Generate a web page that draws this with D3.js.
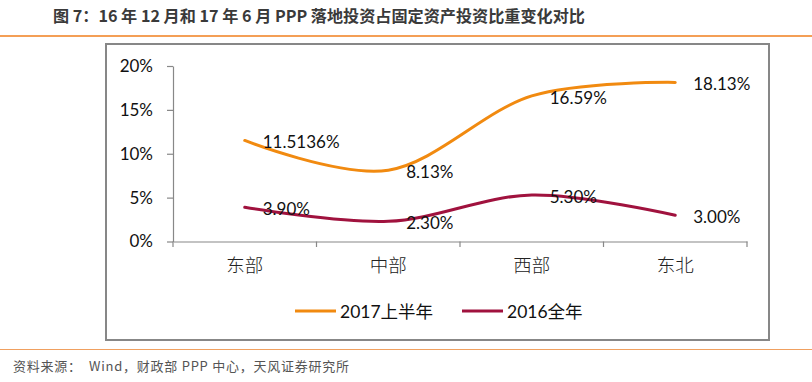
<!DOCTYPE html>
<html><head><meta charset="utf-8">
<script src="https://cdn.jsdelivr.net/npm/d3@7"></script>
<style>
html,body{margin:0;padding:0;background:#fff;}
svg{display:block;}
</style></head>
<body>
<script>
const categories = ["东部", "中部", "西部", "东北"];
const series2017 = [11.5136, 8.13, 16.59, 18.13];
const series2016 = [3.90, 2.30, 5.30, 3.00];
const labels2017 = ["11.5136%", "8.13%", "16.59%", "18.13%"];
const labels2016 = ["3.90%", "2.30%", "5.30%", "3.00%"];
const yTicks = [0, 5, 10, 15, 20];
const seriesNames = ["2017上半年", "2016全年"];
const colors = ["#F18A10", "#A0123E"];
const titleText = "图 7：16 年 12 月和 17 年 6 月 PPP 落地投资占固定资产投资比重变化对比";
const sourceText = "资料来源：  Wind，财政部 PPP 中心，天风证券研究所";

const W = 812, H = 382;
const svg = d3.select("body").append("svg").attr("width", W).attr("height", H);
svg.append("rect").attr("width", W).attr("height", H).attr("fill", "#fff");

// title
svg.append("text").attr("x", 53).attr("y", 15).attr("dominant-baseline", "central")
  .attr("font-family", "'Noto Sans CJK SC', sans-serif").attr("font-weight", "bold")
  .attr("font-size", 16).attr("fill", "#3a3a3a")
  .attr("textLength", 532).attr("lengthAdjust", "spacingAndGlyphs")
  .text(titleText);
svg.append("line").attr("x1", 0).attr("x2", W).attr("y1", 36).attr("y2", 36)
  .attr("stroke", "#F07F1E").attr("stroke-width", 1.5);

// chart box
svg.append("rect").attr("x", 106).attr("y", 44).attr("width", 663).attr("height", 296)
  .attr("fill", "#fff").attr("stroke", "#878787").attr("stroke-width", 2);

const x = d3.scaleBand().domain(categories).range([173, 747]);
const y = d3.scaleLinear().domain([0, 20]).range([241.5, 66]);

// y axis
const yAxis = d3.axisLeft(y).tickValues(yTicks).tickFormat(d => d + "%").tickSize(6).tickSizeOuter(0).tickPadding(14);
const gy = svg.append("g").attr("transform", "translate(173,0)").call(yAxis);
gy.selectAll("path,line").attr("stroke", "#888").attr("stroke-width", 1.2);
gy.selectAll("text").attr("font-family", "Lato, 'Open Sans', sans-serif").attr("font-size", 17).attr("fill", "#111");

// x axis
const xAxis = d3.axisBottom(x).tickSize(0).tickSizeOuter(0).tickPadding(17);
const gx = svg.append("g").attr("transform", "translate(0,241.5)").call(xAxis);
gx.select("path").attr("stroke", "#888").attr("stroke-width", 1.2);
gx.selectAll("text").attr("font-family", "'Noto Sans CJK SC', serif").attr("font-size", 18.5)
  .attr("font-weight", 300).attr("fill", "#222");
// boundary ticks between categories
const bounds = categories.map(c => x(c)).concat([x.range()[1]]);
svg.append("g").selectAll("line").data(bounds).join("line")
  .attr("x1", d => d).attr("x2", d => d).attr("y1", 241.5).attr("y2", 247)
  .attr("stroke", "#888").attr("stroke-width", 1.2);

const cx = c => x(c) + x.bandwidth() / 2;
const line = d3.line().x((d, i) => cx(categories[i])).y(d => y(d)).curve(d3.curveCardinal.tension(0));

const allSeries = [series2017, series2016];
const allLabels = [labels2017, labels2016];
allSeries.forEach((s, k) => {
  svg.append("path").datum(s).attr("d", line).attr("fill", "none")
    .attr("stroke", colors[k]).attr("stroke-width", 3).attr("stroke-linecap", "round");
});
allSeries.forEach((s, k) => {
  svg.append("g").selectAll("text").data(s).join("text")
    .attr("x", (d, i) => cx(categories[i]) + 18)
    .attr("y", d => y(d) + 1.5)
    .attr("dominant-baseline", "central")
    .attr("font-family", "Lato, 'Open Sans', sans-serif").attr("font-size", 17).attr("fill", "#111")
    .text((d, i) => allLabels[k][i]);
});

// legend
const legendX = [295, 462];
seriesNames.forEach((n, k) => {
  svg.append("line").attr("x1", legendX[k]).attr("x2", legendX[k] + 41)
    .attr("y1", 311).attr("y2", 311).attr("stroke", colors[k]).attr("stroke-width", 3);
  svg.append("text").attr("x", legendX[k] + 45).attr("y", 311).attr("dominant-baseline", "central")
    .attr("font-family", "Lato, 'Noto Sans CJK SC', sans-serif").attr("font-size", 17.5).attr("fill", "#111")
    .text(n);
});

// bottom line + source
svg.append("line").attr("x1", 0).attr("x2", W).attr("y1", 349.5).attr("y2", 349.5)
  .attr("stroke", "#F0A060").attr("stroke-width", 1);
svg.append("text").attr("x", 13).attr("y", 365).attr("dominant-baseline", "central")
  .attr("font-family", "'Noto Sans CJK SC', sans-serif").attr("font-size", 13).attr("fill", "#555")
  .attr("textLength", 336).attr("lengthAdjust", "spacing")
  .attr("xml:space", "preserve").style("white-space", "pre")
  .text(sourceText);
</script>
</body></html>
